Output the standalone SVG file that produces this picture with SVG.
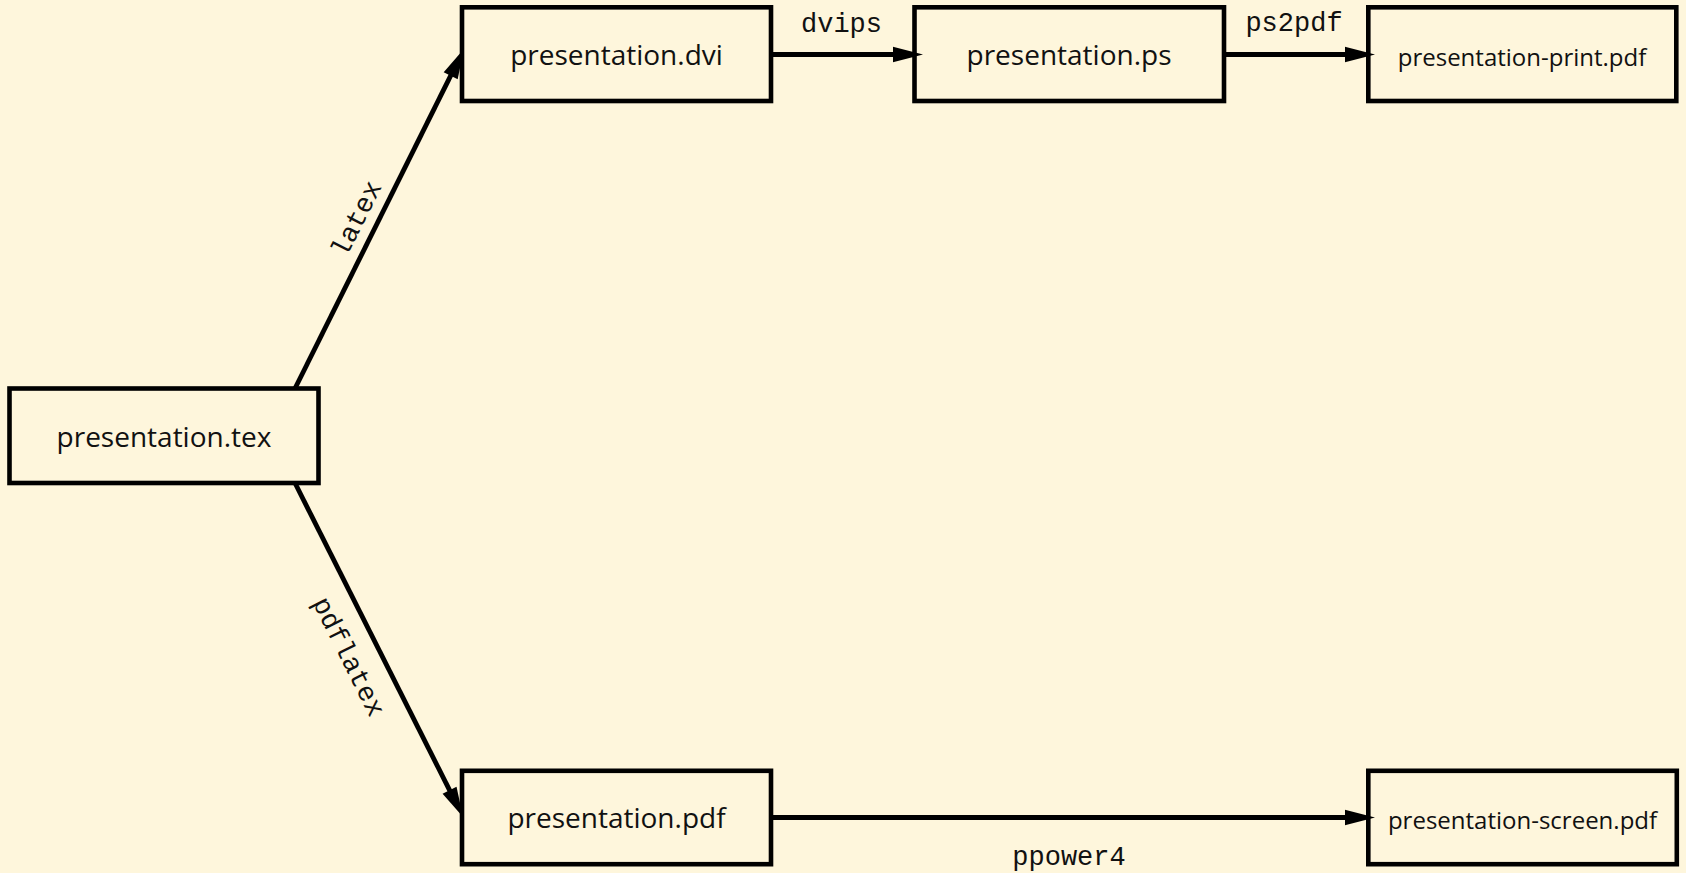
<svg xmlns="http://www.w3.org/2000/svg" width="1686" height="873" viewBox="0 0 1686 873">
<style>
.box{fill:none;stroke:#000;stroke-width:4.6}
.lbl{font-family:"Open Sans","Noto Sans",sans-serif;font-size:28px;fill:#111;text-anchor:middle}
.sm{font-size:24px}
.edge{stroke:#000;stroke-width:4.8;fill:none;marker-end:url(#ah)}
.el{font-family:"Liberation Mono","DejaVu Sans Mono",monospace;font-size:27px;fill:#111;text-anchor:middle}
</style>
<defs>
<marker id="ah" markerUnits="userSpaceOnUse" markerWidth="40" markerHeight="20" refX="7" refY="7.8" orient="auto" overflow="visible">
<path d="M0,0 L30,7.8 L0,15.6 Z" fill="#000"/>
</marker>
</defs>
<rect x="0" y="0" width="1686" height="873" fill="#FEF6DC"/>
<g id="edges">
<path class="edge" d="M773,54.5 L900,54.5"/>
<path class="edge" d="M1226,54.5 L1352,54.5"/>
<path class="edge" d="M773,817.5 L1352,817.5"/>
<path class="edge" d="M295,388.5 L453.8,69.4"/>
<path class="edge" d="M295,483 L452.7,796.4"/>
<text class="el" x="841.5" y="31.5">dvips</text>
<text class="el" x="1294" y="31">ps2pdf</text>
<text class="el" x="1069" y="865">ppower4</text>
<text class="el" transform="translate(364.2,222.4) rotate(-63.43)">latex</text>
<text class="el" transform="translate(341.3,660.5) rotate(63.43)">pdflatex</text>
</g>
<g id="n-tex"><rect class="box" x="9.5" y="388.5" width="309" height="94.5"/><text class="lbl" x="164" y="447">presentation.tex</text></g>
<g id="n-dvi"><rect class="box" x="462" y="7.3" width="309" height="93.7"/><text class="lbl" x="616.5" y="65">presentation.dvi</text></g>
<g id="n-ps"><rect class="box" x="914.5" y="7.3" width="309.5" height="93.7"/><text class="lbl" x="1069" y="65">presentation.ps</text></g>
<g id="n-print"><rect class="box" x="1368.3" y="7.3" width="308" height="93.7"/><text class="lbl sm" x="1522" y="66">presentation-print.pdf</text></g>
<g id="n-pdf"><rect class="box" x="462" y="770.8" width="309" height="93.4"/><text class="lbl" x="616.5" y="828.3">presentation.pdf</text></g>
<g id="n-screen"><rect class="box" x="1368.3" y="770.8" width="308.5" height="93.4"/><text class="lbl sm" x="1522.5" y="829">presentation-screen.pdf</text></g>
</svg>
